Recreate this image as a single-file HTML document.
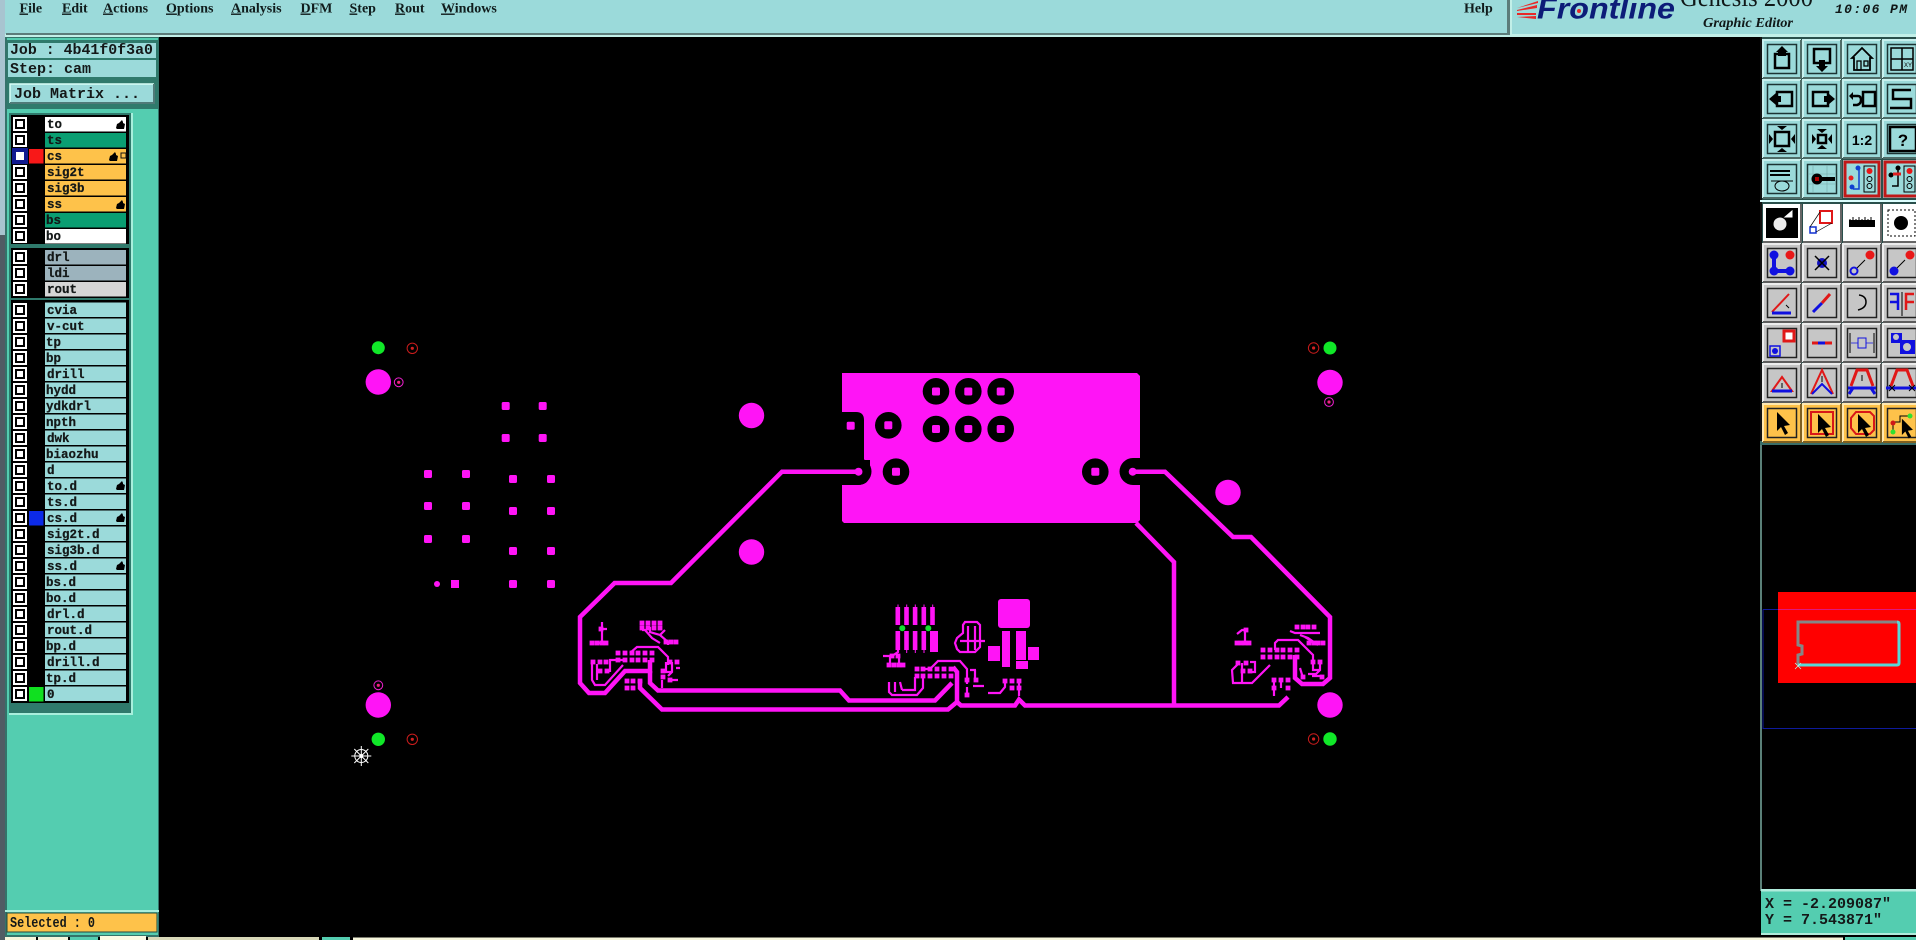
<!DOCTYPE html>
<html><head><meta charset="utf-8"><style>
html,body{margin:0;padding:0;background:#000;width:1916px;height:940px;overflow:hidden}
svg{display:block}
.m{font:bold 14px "Liberation Serif",serif;fill:#101c1c}
.l{font:bold 12.5px "Liberation Mono",monospace;fill:#141818;stroke:#141818;stroke-width:.25px}
.p{font:bold 15px "Liberation Mono",monospace;fill:#141818}
</style></head><body>
<svg xmlns="http://www.w3.org/2000/svg" width="1916" height="940" viewBox="0 0 1916 940">
<defs>
<g id="cb"><rect width="14" height="14" fill="#fff"/><rect x="2" y="2" width="10" height="10" fill="#000"/><rect x="4" y="4" width="6" height="6" fill="#fff"/></g>
<path id="hand" d="M0 8 L1 4 L3 3 L6 0 L7 2 L7 3 L9 4 L8 9 L1 9 Z" fill="#000"/>
<g id="bev"><path d="M0 38V0H38" fill="none" stroke="#c8f0ee" stroke-width="2"/><path d="M0 38H38V0" fill="none" stroke="#4f6c68" stroke-width="2"/><rect x="4.500" y="4.500" width="29" height="29" fill="none" stroke="#1c3434" stroke-width="1.500"/></g>
<g id="bt"><rect width="38" height="38" fill="#9bdada"/><use href="#bev"/></g>
<g id="bg"><rect width="38" height="38" fill="#c6c6c6"/><path d="M0 38V0H38" fill="none" stroke="#ececec" stroke-width="2"/><path d="M0 38H38V0" fill="none" stroke="#5c5c5c" stroke-width="2"/><rect x="4.500" y="4.500" width="29" height="29" fill="none" stroke="#222" stroke-width="1.500"/></g>
<g id="bw"><rect width="38" height="38" fill="#fff"/><path d="M0 38H38V0" fill="none" stroke="#666" stroke-width="2"/></g>
<g id="bo"><rect width="38" height="38" fill="#fec24a"/><path d="M0 38V0H38" fill="none" stroke="#ffe8b0" stroke-width="2"/><path d="M0 38H38V0" fill="none" stroke="#806020" stroke-width="2"/><rect x="4.500" y="4.500" width="29" height="29" fill="none" stroke="#222" stroke-width="1.500"/></g>
<path id="arr" d="M14 8 L14 27 L18 23 L22 31 L25 29 L21 22 L27 21 Z" fill="#000"/>
<g id="rng"><circle r="5.200" fill="none" stroke="#c81c1c" stroke-width="1"/><circle r="1.600" fill="#d02020"/></g>
<g id="mrng"><circle r="4.400" fill="none" stroke="#f020d0" stroke-width="1"/><circle r="1.600" fill="#f02080"/></g>
<rect id="sq" x="-4" y="-4" width="8" height="8" rx="1.600" fill="#ff14f6"/>
<rect id="sp" x="-2.400" y="-2.400" width="4.800" height="4.800" fill="#ff14f6"/>
</defs>

<!-- backgrounds -->
<rect width="1916" height="940" fill="#000"/>
<rect width="1916" height="34" fill="#9bdada"/>
<rect y="34" width="1916" height="3" fill="#c2efe8"/>
<rect x="6" y="33" width="1501" height="2" fill="#5c7c7a"/>
<rect x="1507" width="3" height="35" fill="#5c7c7a"/>
<rect x="1510" width="2" height="34" fill="#c2efe8"/>

<!-- left chrome -->
<rect x="0" y="0" width="5" height="940" fill="#505c64"/>
<rect x="0" y="0" width="5" height="235" fill="#a8c4d0"/>
<rect x="5" y="37" width="154" height="900" fill="#34736a"/>
<rect x="7" y="38" width="151" height="897" fill="#54cdb0"/>

<rect x="7" y="40" width="151" height="69" fill="#2f7a6c"/>
<rect x="8" y="43" width="148" height="15" fill="#9bdada"/>
<rect x="8" y="60" width="148" height="17" fill="#9bdada"/>
<rect x="9" y="82" width="147" height="23" fill="#2f7a6c"/>
<rect x="10" y="84" width="144" height="19" fill="#9bdada"/>
<path d="M10 103V84H154" fill="none" stroke="#d8fff8" stroke-width="1.500"/>
<path d="M10 103H154V84" fill="none" stroke="#4f7a78" stroke-width="2"/>
<text x="10" y="54" class="p" textLength="143" lengthAdjust="spacingAndGlyphs">Job : 4b41f0f3a0</text>
<text x="10" y="73" class="p">Step: cam</text>
<text x="14" y="98" class="p">Job Matrix ...</text>

<rect x="9" y="113" width="123" height="600" fill="#2f7a6c"/>
<rect x="131" y="113" width="2" height="601" fill="#a8efdc"/>
<rect x="9" y="713" width="124" height="2" fill="#a8efdc"/>
<rect x="11" y="115" width="118" height="129" fill="#000"/>
<rect x="11" y="248" width="118" height="50" fill="#000"/>
<rect x="11" y="300" width="118" height="403" fill="#000"/>

<!-- layer rows -->
<g>
<rect x="45" y="117" width="81" height="14.500" fill="#fff"/><use href="#cb" x="13" y="117"/><text x="47" y="128" class="l">to</text><use href="#hand" x="116" y="120"/>
<rect x="45" y="133" width="81" height="14.500" fill="#0a9e72"/><use href="#cb" x="13" y="133"/><text x="47" y="144" class="l">ts</text>
<rect x="45" y="149" width="81" height="14.500" fill="#fec24a"/><rect x="12" y="148" width="16" height="16" fill="#101a90"/><rect x="16" y="152" width="8" height="8" fill="#fff"/><rect x="29" y="149" width="14.500" height="14.500" fill="#f81818"/><text x="47" y="160" class="l">cs</text><use href="#hand" x="109" y="152"/><rect x="121" y="153" width="5" height="5" fill="none" stroke="#111"/>
<rect x="45" y="165" width="81" height="14.500" fill="#fec24a"/><use href="#cb" x="13" y="165"/><text x="47" y="176" class="l">sig2t</text>
<rect x="45" y="181" width="81" height="14.500" fill="#fec24a"/><use href="#cb" x="13" y="181"/><text x="47" y="192" class="l">sig3b</text>
<rect x="45" y="197" width="81" height="14.500" fill="#fec24a"/><use href="#cb" x="13" y="197"/><text x="47" y="208" class="l">ss</text><use href="#hand" x="116" y="200"/>
<rect x="45" y="213" width="81" height="14.500" fill="#0a9e72"/><use href="#cb" x="13" y="213"/><text x="46" y="224" class="l">bs</text>
<rect x="45" y="229" width="81" height="14.500" fill="#fff"/><use href="#cb" x="13" y="229"/><text x="46" y="240" class="l">bo</text>

<rect x="45" y="250" width="81" height="14.500" fill="#9cb3bd"/><use href="#cb" x="13" y="250"/><text x="47" y="261" class="l">drl</text>
<rect x="45" y="266" width="81" height="14.500" fill="#9cb3bd"/><use href="#cb" x="13" y="266"/><text x="47" y="277" class="l">ldi</text>
<rect x="45" y="282" width="81" height="14.500" fill="#d6d6d6"/><use href="#cb" x="13" y="282"/><text x="47" y="293" class="l">rout</text>

<g fill="#9bdada">
<rect x="45" y="302.500" width="81" height="14.500"/><rect x="45" y="318.500" width="81" height="14.500"/><rect x="45" y="334.500" width="81" height="14.500"/><rect x="45" y="350.500" width="81" height="14.500"/><rect x="45" y="366.500" width="81" height="14.500"/>
<rect x="45" y="382.500" width="81" height="14.500"/><rect x="45" y="398.500" width="81" height="14.500"/><rect x="45" y="414.500" width="81" height="14.500"/><rect x="45" y="430.500" width="81" height="14.500"/><rect x="45" y="446.500" width="81" height="14.500"/>
<rect x="45" y="462.500" width="81" height="14.500"/><rect x="45" y="478.500" width="81" height="14.500"/><rect x="45" y="494.500" width="81" height="14.500"/><rect x="45" y="510.500" width="81" height="14.500"/><rect x="45" y="526.500" width="81" height="14.500"/>
<rect x="45" y="542.500" width="81" height="14.500"/><rect x="45" y="558.500" width="81" height="14.500"/><rect x="45" y="574.500" width="81" height="14.500"/><rect x="45" y="590.500" width="81" height="14.500"/><rect x="45" y="606.500" width="81" height="14.500"/>
<rect x="45" y="622.500" width="81" height="14.500"/><rect x="45" y="638.500" width="81" height="14.500"/><rect x="45" y="654.500" width="81" height="14.500"/><rect x="45" y="670.500" width="81" height="14.500"/><rect x="45" y="686.500" width="81" height="14.500"/>
</g>
<use href="#cb" x="13" y="303"/><use href="#cb" x="13" y="319"/><use href="#cb" x="13" y="335"/><use href="#cb" x="13" y="351"/><use href="#cb" x="13" y="367"/>
<use href="#cb" x="13" y="383"/><use href="#cb" x="13" y="399"/><use href="#cb" x="13" y="415"/><use href="#cb" x="13" y="431"/><use href="#cb" x="13" y="447"/>
<use href="#cb" x="13" y="463"/><use href="#cb" x="13" y="479"/><use href="#cb" x="13" y="495"/><use href="#cb" x="13" y="511"/><use href="#cb" x="13" y="527"/>
<use href="#cb" x="13" y="543"/><use href="#cb" x="13" y="559"/><use href="#cb" x="13" y="575"/><use href="#cb" x="13" y="591"/><use href="#cb" x="13" y="607"/>
<use href="#cb" x="13" y="623"/><use href="#cb" x="13" y="639"/><use href="#cb" x="13" y="655"/><use href="#cb" x="13" y="671"/><use href="#cb" x="13" y="687"/>
<rect x="29" y="511" width="14.500" height="14.500" fill="#0c2ae8"/>
<rect x="29" y="687" width="14.500" height="14.500" fill="#10e020"/>
<text x="47" y="314" class="l">cvia</text>
<text x="47" y="330" class="l">v-cut</text>
<text x="46" y="346" class="l">tp</text>
<text x="46" y="362" class="l">bp</text>
<text x="47" y="378" class="l">drill</text>
<text x="46" y="394" class="l">hydd</text>
<text x="46" y="410" class="l">ydkdrl</text>
<text x="46" y="426" class="l">npth</text>
<text x="47" y="442" class="l">dwk</text>
<text x="46" y="458" class="l">biaozhu</text>
<text x="47" y="474" class="l">d</text>
<text x="47" y="490" class="l">to.d</text><use href="#hand" x="116" y="481"/>
<text x="47" y="506" class="l">ts.d</text>
<text x="47" y="522" class="l">cs.d</text><use href="#hand" x="116" y="513"/>
<text x="47" y="538" class="l">sig2t.d</text>
<text x="47" y="554" class="l">sig3b.d</text>
<text x="47" y="570" class="l">ss.d</text><use href="#hand" x="116" y="561"/>
<text x="46" y="586" class="l">bs.d</text>
<text x="46" y="602" class="l">bo.d</text>
<text x="47" y="618" class="l">drl.d</text>
<text x="47" y="634" class="l">rout.d</text>
<text x="46" y="650" class="l">bp.d</text>
<text x="47" y="666" class="l">drill.d</text>
<text x="46" y="682" class="l">tp.d</text>
<text x="47" y="698" class="l">0</text>
</g>

<rect x="5" y="910" width="154" height="2" fill="#a8efdc"/>
<rect x="7" y="913" width="150" height="19" fill="#fec24a" stroke="#23483f" stroke-width="1"/>
<text x="10" y="927" class="p" style="font-size:15px" textLength="85" lengthAdjust="spacingAndGlyphs">Selected : 0</text>

<!-- bottom strip -->
<g>
<rect x="5" y="937" width="31" height="3" fill="#f6f6dc"/><rect x="38" y="937" width="30" height="3" fill="#f6f6dc"/><rect x="70" y="937" width="28" height="3" fill="#54cdb0"/><rect x="100" y="936" width="46" height="4" fill="#fbfbe4"/><rect x="148" y="937" width="171" height="3" fill="#d8d8b8"/><rect x="322" y="937" width="28" height="3" fill="#54cdb0"/><rect x="353" y="937.500" width="1490" height="2.500" fill="#f6f6dc"/><rect x="1845" y="937" width="71" height="3" fill="#54cdb0"/>
</g>

<!-- menu -->
<g class="m">
<text x="19.500" y="12.500" class="m"><tspan text-decoration="underline">F</tspan>ile</text>
<text x="62" y="12.500" class="m"><tspan text-decoration="underline">E</tspan>dit</text>
<text x="103" y="12.500" class="m"><tspan text-decoration="underline">A</tspan>ctions</text>
<text x="166" y="12.500" class="m"><tspan text-decoration="underline">O</tspan>ptions</text>
<text x="231" y="12.500" class="m"><tspan text-decoration="underline">A</tspan>nalysis</text>
<text x="300.500" y="12.500" class="m"><tspan text-decoration="underline">D</tspan>FM</text>
<text x="349.500" y="12.500" class="m"><tspan text-decoration="underline">S</tspan>tep</text>
<text x="395" y="12.500" class="m"><tspan text-decoration="underline">R</tspan>out</text>
<text x="441" y="12.500" class="m"><tspan text-decoration="underline">W</tspan>indows</text>
<text x="1464" y="12.500" class="m">Help</text>
</g>

<!-- logo -->
<g fill="#e82828"><path d="M1517 8 L1538 1 L1538 3 Z"/><path d="M1517 10 L1537 5 L1537 8 L1517 11 Z"/><path d="M1517 13 H1536 V15 H1517 Z"/><path d="M1517 17 L1536 16 V19 Z"/></g>
<text x="1537" y="18.500" font-family="Liberation Sans,sans-serif" font-weight="bold" font-style="italic" font-size="30" fill="#0c1c78" textLength="138" lengthAdjust="spacingAndGlyphs">Frontline</text>
<circle cx="1579" cy="11" r="2" fill="#e82828"/>
<text x="1680" y="6" font-family="Liberation Serif,serif" font-size="26" fill="#101818" textLength="133" lengthAdjust="spacingAndGlyphs">Genesis 2000</text>
<text x="1703" y="27" font-family="Liberation Serif,serif" font-weight="bold" font-style="italic" font-size="13.500" fill="#101818" textLength="90" lengthAdjust="spacingAndGlyphs">Graphic Editor</text>
<text x="1835" y="13" font-family="Liberation Mono,monospace" font-weight="bold" font-style="italic" font-size="13" fill="#101818" textLength="72">10:06 PM</text>

<!-- right toolbar -->
<rect x="1760" y="37" width="156" height="408" fill="#2a504c"/>
<rect x="1760" y="37" width="2" height="408" fill="#111"/>
<rect x="1760" y="200" width="156" height="2" fill="#dff"/>
<rect x="1760" y="441" width="156" height="4" fill="#3a6e68"/>

<g transform="translate(1763,40)"><use href="#bt"/><path d="M12 14h14v14h-14z" fill="none" stroke="#000" stroke-width="2.500"/><path d="M15 14v-2h-2l6-6 6 6h-2v4h-8z" fill="#000"/></g>
<g transform="translate(1803,40)"><use href="#bt"/><path d="M11 9h16v14h-16z" fill="none" stroke="#000" stroke-width="2.500"/><path d="M16 20h6v6h3l-6 6-6-6h3z" fill="#000"/></g>
<g transform="translate(1843,40)"><use href="#bt"/><path d="M9 18 19 8l10 10h-2v12H11V18z" fill="none" stroke="#000" stroke-width="1.800"/><rect x="14" y="21" width="4" height="9" fill="none" stroke="#000" stroke-width="1.300"/><rect x="21" y="21" width="4" height="5" fill="none" stroke="#000" stroke-width="1.300"/></g>
<g transform="translate(1883,40)"><use href="#bt"/><path d="M8 8h22v22H8zM19 8v22M8 19h22" fill="none" stroke="#000" stroke-width="1.500"/><text x="21" y="27" font-size="6" font-family="Liberation Sans" fill="#000">XY</text></g>

<g transform="translate(1763,80)"><use href="#bt"/><rect x="14" y="12" width="15" height="14" fill="none" stroke="#000" stroke-width="2.500"/><path d="M6 19l7-6v12z" fill="#000"/><rect x="12" y="16" width="6" height="6" fill="#000"/></g>
<g transform="translate(1803,80)"><use href="#bt"/><rect x="10" y="12" width="15" height="14" fill="none" stroke="#000" stroke-width="2.500"/><path d="M32 19l-7-6v12z" fill="#000"/><rect x="21" y="16" width="6" height="6" fill="#000"/></g>
<g transform="translate(1843,80)"><use href="#bt"/><rect x="20" y="12" width="12" height="14" fill="none" stroke="#000" stroke-width="2.500"/><path d="M9 16h6q3 0 3 4t-4 5h-4" fill="none" stroke="#000" stroke-width="2.500"/><path d="M6 16l4-4v8z" fill="#000"/></g>
<g transform="translate(1883,80)"><use href="#bt"/><path d="M28 10H10v9h18v9H7" fill="none" stroke="#000" stroke-width="2.500"/></g>

<g transform="translate(1763,120)"><use href="#bt"/><rect x="12" y="12" width="14" height="14" fill="none" stroke="#000" stroke-width="2.500"/><path d="M19 10l-5-4h10zM19 28l-5 4h10zM10 19l-4-5v10zM28 19l4-5v10z" fill="#000"/></g>
<g transform="translate(1803,120)"><use href="#bt"/><rect x="15" y="15" width="8" height="8" fill="none" stroke="#000" stroke-width="2.500"/><path d="M19 13l-5-4h10zM19 25l-5 4h10zM13 19l-4-5v10zM25 19l4-5v10z" fill="#000"/></g>
<g transform="translate(1843,120)"><use href="#bt"/><text x="19" y="25" font-family="Liberation Sans" font-weight="bold" font-size="14" text-anchor="middle" fill="#000">1:2</text></g>
<g transform="translate(1883,120)"><use href="#bt"/><rect x="7" y="7" width="26" height="24" fill="none" stroke="#000" stroke-width="2.500"/><text x="20" y="26" font-family="Liberation Sans" font-weight="bold" font-size="17" text-anchor="middle" fill="#000">?</text></g>

<g transform="translate(1763,160)"><use href="#bt"/><path d="M7 11h20M7 15h20" stroke="#000" stroke-width="2"/><path d="M8 21h22" stroke="#000"/><ellipse cx="19" cy="26" rx="7" ry="5" fill="none" stroke="#000"/></g>
<g transform="translate(1803,160)"><use href="#bt"/><path d="M10 5v28M24 5v28M5 14h28M5 24h28" stroke="#7aa" stroke-width=".6"/><circle cx="14" cy="19" r="5.500" fill="#000"/><rect x="12" y="17" width="4" height="4" fill="#a00"/><rect x="18" y="17" width="14" height="4" fill="#000"/></g>
<g transform="translate(1843,160)"><rect width="38" height="38" fill="#9bdada"/><rect x="2" y="2" width="34" height="34" fill="none" stroke="#c01818" stroke-width="3"/><path d="M16 7v22H10" fill="none" stroke="#1040d0" stroke-width="1.500"/><circle cx="15" cy="8" r="2.500" fill="#1040d0"/><circle cx="8" cy="18" r="2.500" fill="#e82020"/><circle cx="9" cy="27" r="2.500" fill="#1040d0"/><rect x="21" y="6" width="11" height="26" fill="none" stroke="#000"/><circle cx="26.500" cy="11" r="3" fill="#e81818"/><circle cx="26.500" cy="19" r="2.500" fill="none" stroke="#000"/><circle cx="26.500" cy="26" r="2.500" fill="none" stroke="#000"/></g>
<g transform="translate(1883,160)"><rect width="38" height="38" fill="#9bdada"/><rect x="2" y="2" width="34" height="34" fill="none" stroke="#c01818" stroke-width="3"/><path d="M15 8v18H9" fill="none" stroke="#000" stroke-width="1.500"/><circle cx="15" cy="8" r="2.500" fill="#000"/><circle cx="8" cy="15" r="2.500" fill="#000"/><path d="M10 14h8" stroke="#e02020" stroke-width="3"/><rect x="21" y="6" width="11" height="26" fill="none" stroke="#000"/><circle cx="26.500" cy="11" r="3" fill="#e81818"/><circle cx="26.500" cy="19" r="2.500" fill="none" stroke="#000"/><circle cx="26.500" cy="26" r="2.500" fill="none" stroke="#000"/></g>

<g transform="translate(1763,204)"><use href="#bw"/><rect x="3" y="4" width="32" height="30" fill="#000"/><circle cx="17" cy="20" r="6.500" fill="#eee"/><path d="M22 13l7-6v6zM22 13l5-4" stroke="#fff" fill="#fff"/></g>
<g transform="translate(1803,204)"><use href="#bw"/><rect x="17" y="7" width="12" height="12" fill="none" stroke="#e01818" stroke-width="2"/><rect x="7" y="23" width="6" height="6" fill="none" stroke="#1030d0" stroke-width="1.500"/><path d="M17 8 7 23M29 19 13 28" stroke="#000" stroke-width=".7"/></g>
<g transform="translate(1843,204)"><use href="#bw"/><rect x="6" y="16" width="26" height="7" fill="#000"/><path d="M7 15v2M10 13v3M13 15v2M16 13v3M19 15v2M22 13v3M25 15v2M28 13v3" stroke="#000"/></g>
<g transform="translate(1883,204)"><use href="#bw"/><rect x="5" y="6" width="27" height="26" fill="none" stroke="#000" stroke-dasharray="2 2"/><circle cx="18" cy="19" r="7" fill="#000"/></g>

<g transform="translate(1763,244)"><use href="#bg"/><path d="M11 11v16h16" fill="none" stroke="#1010e0" stroke-width="4"/><circle cx="11" cy="11" r="4.500" fill="#1010e0"/><circle cx="11" cy="27" r="4.500" fill="#1010e0"/><circle cx="27" cy="27" r="4.500" fill="#1010e0"/><circle cx="27" cy="11" r="4.500" fill="#e81818"/></g>
<g transform="translate(1803,244)"><use href="#bg"/><circle cx="19" cy="19" r="5" fill="#1010c0"/><path d="M12 12 26 26M26 12 12 26" stroke="#000" stroke-width="1.500"/></g>
<g transform="translate(1843,244)"><use href="#bg"/><circle cx="11" cy="27" r="3.500" fill="none" stroke="#1010e0" stroke-width="2"/><circle cx="27" cy="11" r="4.500" fill="#e81818"/><path d="M14 24 22 16" stroke="#000"/></g>
<g transform="translate(1883,244)"><use href="#bg"/><circle cx="11" cy="27" r="4.500" fill="#1010e0"/><circle cx="27" cy="11" r="4.500" fill="#e81818"/><path d="M14 24 22 16" stroke="#000"/></g>

<g transform="translate(1763,284)"><use href="#bg"/><path d="M9 28 26 10" stroke="#e01818" stroke-width="2"/><path d="M9 29H28" stroke="#1010e0" stroke-width="3"/><path d="M23 21l3 3" stroke="#000"/></g>
<g transform="translate(1803,284)"><use href="#bg"/><path d="M10 28 19 19" stroke="#1010e0" stroke-width="3"/><path d="M19 19 27 10" stroke="#e01818" stroke-width="3"/></g>
<g transform="translate(1843,284)"><use href="#bg"/><path d="M16 11q7 1 7 7t-8 8" fill="none" stroke="#000" stroke-width="1.500"/></g>
<g transform="translate(1883,284)"><use href="#bg"/><path d="M7 10h8v16M7 18h8" fill="none" stroke="#1010e0" stroke-width="2.500"/><path d="M19 8v24" stroke="#000"/><path d="M31 10h-8v16M31 18h-8" fill="none" stroke="#e01818" stroke-width="2.500"/></g>

<g transform="translate(1763,324)"><use href="#bg"/><rect x="21" y="7" width="10" height="10" fill="#fff" stroke="#e01818" stroke-width="3"/><rect x="7" y="22" width="10" height="10" fill="none" stroke="#1010e0" stroke-width="1.500"/><circle cx="12" cy="27" r="3" fill="#1010e0"/></g>
<g transform="translate(1803,324)"><use href="#bg"/><path d="M9 19H29" stroke="#e01818" stroke-width="3"/><path d="M15 19H22" stroke="#1010e0" stroke-width="3"/></g>
<g transform="translate(1843,324)"><use href="#bg"/><path d="M7 9v20M31 9v20" stroke="#000"/><path d="M8 19h22" stroke="#1010e0" stroke-width=".8"/><rect x="15" y="14" width="8" height="10" fill="#c6c6c6" stroke="#1010e0"/></g>
<g transform="translate(1883,324)"><use href="#bg"/><rect x="8" y="9" width="11" height="10" fill="#1010e0"/><rect x="17" y="16" width="15" height="14" fill="#1010e0"/><circle cx="13" cy="13" r="3" fill="#c6c6c6"/><circle cx="24" cy="23" r="4" fill="#c6c6c6"/></g>

<g transform="translate(1763,364)"><use href="#bg"/><path d="M9 27 19 13 29 27Z" fill="none" stroke="#e01818" stroke-width="2"/><path d="M9 27H29" stroke="#1010e0" stroke-width="3"/><path d="M19 19v5" stroke="#000"/></g>
<g transform="translate(1803,364)"><use href="#bg"/><path d="M8 30 19 6 30 30" fill="none" stroke="#e01818" stroke-width="2"/><path d="M9 30 19 20 29 30" fill="none" stroke="#1010e0" stroke-width="2"/><path d="M19 12v6" stroke="#000"/></g>
<g transform="translate(1843,364)"><use href="#bg"/><path d="M8 22 14 6H24L30 22" fill="none" stroke="#e01818" stroke-width="3"/><path d="M5 24H33M6 30 10 24M32 30 28 24" stroke="#1010e0" stroke-width="3"/><path d="M19 11v6" stroke="#000"/></g>
<g transform="translate(1883,364)"><use href="#bg"/><path d="M8 22 14 6H24L30 22" fill="none" stroke="#e01818" stroke-width="3"/><path d="M3 24H35" stroke="#1010e0" stroke-width="3"/><path d="M6 21 12 27M12 21 6 27M26 21 32 27M32 21 26 27" stroke="#000"/></g>

<g transform="translate(1763,404)"><use href="#bo"/><use href="#arr"/></g>
<g transform="translate(1803,404)"><use href="#bo"/><rect x="8" y="8" width="22" height="22" fill="none" stroke="#d81818" stroke-width="2"/><use href="#arr" transform="translate(1,2)"/></g>
<g transform="translate(1843,404)"><use href="#bo"/><path d="M13 8H27L31 12V26L27 30H13L8 24V14Z" fill="none" stroke="#d81818" stroke-width="2"/><use href="#arr" transform="translate(1,2)"/></g>
<g transform="translate(1883,404)"><use href="#bo"/><path d="M10 27V18H17V12H27" fill="none" stroke="#000"/><circle cx="10" cy="19" r="2.500" fill="#d01818"/><circle cx="10" cy="28" r="2.500" fill="#30e030"/><circle cx="27" cy="12" r="2.500" fill="#30e030"/><use href="#arr" transform="translate(7,8) scale(.85)"/></g>

<!-- minimap -->
<rect x="1760" y="445" width="2" height="446" fill="#5a8078"/>
<rect x="1778" y="592" width="138" height="91" fill="#ff0000"/>
<path d="M1763 609.500H1916" stroke="#e01880" stroke-width="1"/>
<path d="M1763 609.500V728.500H1916M1763 609.500H1778" fill="none" stroke="#0e1a9c" stroke-width="1"/>
<path d="M1798 665V655L1802 654V646L1798 645V622H1897" fill="none" stroke="#868686" stroke-width="3"/>
<path d="M1897 622Q1899 622 1899 624V663Q1899 665 1897 665H1798" fill="none" stroke="#58d8d8" stroke-width="3"/>
<path d="M1795 663 1801 669M1801 663 1795 669" stroke="#bfe" stroke-width=".7"/>

<!-- status -->
<rect x="1761" y="890" width="155" height="44" fill="#54cdb0"/>
<rect x="1761" y="889" width="155" height="2.500" fill="#b0ecdc"/>
<rect x="1761" y="933" width="155" height="2" fill="#b0ecdc"/>
<text x="1765" y="908" class="p">X = -2.209087"</text>
<text x="1765" y="924" class="p">Y = 7.543871"</text>

<!-- PCB -->
<g>
<!-- plane -->
<path d="M842 373H1137L1140 376V520L1137 523H844L842 521Z" fill="#ff14f6"/>
<path d="M842 412H856Q864 412 864 420V460H870V472Q870 485 858 485H842Z" fill="#000"/>
<path d="M842 458H858A13.500 13.500 0 0 1 858 485H842Z" fill="#000"/>
<path d="M1140 458H1133A13.500 13.500 0 0 0 1133 485H1140Z" fill="#000"/>
<g fill="#000">
<circle cx="936" cy="391.300" r="13.300"/><circle cx="968.300" cy="391.300" r="13.300"/><circle cx="1000.700" cy="391.300" r="13.300"/>
<circle cx="936" cy="429" r="13.300"/><circle cx="968.300" cy="429" r="13.300"/><circle cx="1000.700" cy="429" r="13.300"/>
<circle cx="888.300" cy="425.300" r="13.300"/><circle cx="896" cy="471.700" r="13.300"/><circle cx="1095.300" cy="471.700" r="13.300"/>
</g>
<g fill="#ff14f6">
<rect x="932" y="387.500" width="8" height="8" rx="1.500"/><rect x="964.300" y="387.500" width="8" height="8" rx="1.500"/><rect x="996.700" y="387.500" width="8" height="8" rx="1.500"/>
<rect x="932" y="425" width="8" height="8" rx="1.500"/><rect x="964.300" y="425" width="8" height="8" rx="1.500"/><rect x="996.700" y="425" width="8" height="8" rx="1.500"/>
<rect x="884.300" y="421.300" width="8" height="8" rx="1.500"/><rect x="892" y="467.700" width="8" height="8" rx="1.500"/><rect x="1091.300" y="467.700" width="8" height="8" rx="1.500"/>
<rect x="846.700" y="421.700" width="8" height="8" rx="1.500"/>
<circle cx="858.500" cy="471.700" r="4"/><circle cx="1132.700" cy="471.700" r="4"/>
</g>
<!-- main traces -->
<g fill="none" stroke="#ff14f6" stroke-width="4.500" stroke-linejoin="miter">
<path d="M858.500 471.700H782L671 583H614.600L580 617V683L589 693H605L625 671H650V660"/>
<path d="M650 671V683L658 690.500H840L849 700.500H935L952 683"/>
<path d="M640 680V688L662 709.500H948L957 702V672L953 667"/>
<path d="M957 702L961 705.500H1015L1019 699.500L1025 705.500H1279L1288 697"/>
<path d="M1174 705V562L1136 523"/>
<path d="M1132.700 471.700H1165L1233 537H1251L1330 617V678L1323 684H1302L1295 678V655"/>
</g>
<g fill="none" stroke="#ff14f6" stroke-width="2.200">
<path d="M630 653L637 647H658L668 657V665"/>
<path d="M623 665L605 685H595L592 680V662M597 664V680"/>
<path d="M623 660H610V672"/>
<path d="M1275 650V643L1278 640H1298L1313 655V662"/>
<path d="M1270 665L1252 683H1233L1232 670L1237 665V662"/>
<path d="M1242 663V683M1250 662H1255V672H1248"/>
<path d="M923 669H930L938 661H960L967 669V677"/>
<path d="M923 676V688L917 695H892L889 692V682M902 690H915V677"/>
<path d="M895 682V692M900 682L902 690"/>
<path d="M970 622H965L963 625V633L957 638L955 643L957 649L960 652H975L980 647V625L977 622H970Z"/>
<path d="M968 626V653M975 626V650M960 641H985"/>
<path d="M988 693H1000L1005 687V680M1019 680V696"/>
<path d="M898 649V652L892 656H883M890 656V664M899 655V665"/>
<path d="M967 677V684M967 687V695M975 670V682M973 686H984M970 670H976"/>
<path d="M602 622V645M600 629H607M597 643H607"/>
<path d="M642 630H645L652 638L660 643M650 627V632L660 635L668 642V645M665 630L660 635"/>
<path d="M666 662V672H672M672 662V672L668 676M662 680V688M668 680H678M676 668L680 668"/>
<path d="M1237 634L1242 630H1246M1245 630V643M1237 643H1249"/>
<path d="M1290 631L1295 633H1320M1305 637L1310 640L1314 644M1300 635L1308 638L1318 645"/>
<path d="M1313 662V670H1320M1300 668L1303 678M1320 662V670L1316 674H1308M1312 676H1322"/>
<path d="M1274 680V696M1281 680V688"/>
</g>
<!-- small pads left cluster -->
<g>
<use href="#sp" x="618" y="653"/><use href="#sp" x="625" y="653"/><use href="#sp" x="632" y="653"/><use href="#sp" x="638" y="653"/><use href="#sp" x="645" y="653"/><use href="#sp" x="652" y="653"/>
<use href="#sp" x="618" y="660"/><use href="#sp" x="625" y="660"/><use href="#sp" x="632" y="660"/><use href="#sp" x="638" y="660"/><use href="#sp" x="645" y="660"/><use href="#sp" x="652" y="660"/>
<use href="#sp" x="627" y="681"/><use href="#sp" x="633" y="681"/><use href="#sp" x="640" y="681"/><use href="#sp" x="627" y="688"/><use href="#sp" x="633" y="688"/>
<use href="#sp" x="642" y="623"/><use href="#sp" x="648" y="623"/><use href="#sp" x="654" y="623"/><use href="#sp" x="660" y="623"/>
<use href="#sp" x="642" y="628"/><use href="#sp" x="648" y="628"/><use href="#sp" x="654" y="628"/><use href="#sp" x="660" y="628"/>
<use href="#sp" x="666" y="642"/><use href="#sp" x="671" y="642"/><use href="#sp" x="676" y="642"/><use href="#sp" x="601" y="629"/><use href="#sp" x="592" y="643"/><use href="#sp" x="597" y="643"/><use href="#sp" x="602" y="643"/><use href="#sp" x="606" y="643"/>
<use href="#sp" x="593" y="662"/><use href="#sp" x="600" y="662"/><use href="#sp" x="606" y="662"/><use href="#sp" x="600" y="671"/><use href="#sp" x="607" y="671"/>
<use href="#sp" x="663" y="671"/><use href="#sp" x="663" y="677"/><use href="#sp" x="670" y="680"/><use href="#sp" x="677" y="662"/><use href="#sp" x="670" y="662"/>
</g>
<!-- small pads centre cluster -->
<g>
<use href="#sp" x="917" y="669"/><use href="#sp" x="923" y="669"/><use href="#sp" x="930" y="669"/><use href="#sp" x="937" y="669"/><use href="#sp" x="944" y="669"/><use href="#sp" x="951" y="669"/>
<use href="#sp" x="917" y="676"/><use href="#sp" x="923" y="676"/><use href="#sp" x="930" y="676"/><use href="#sp" x="937" y="676"/><use href="#sp" x="944" y="676"/><use href="#sp" x="951" y="676"/>
<use href="#sp" x="1012" y="681"/><use href="#sp" x="1012" y="688"/><use href="#sp" x="1019" y="681"/><use href="#sp" x="1019" y="688"/><use href="#sp" x="1005" y="681"/>
<use href="#sp" x="889" y="665"/><use href="#sp" x="894" y="665"/><use href="#sp" x="899" y="665"/><use href="#sp" x="903" y="665"/><use href="#sp" x="892" y="656"/><use href="#sp" x="898" y="656"/>
<use href="#sp" x="967" y="680"/><use href="#sp" x="976" y="680"/><use href="#sp" x="967" y="695"/>
</g>
<!-- small pads right cluster -->
<g>
<use href="#sp" x="1263" y="650"/><use href="#sp" x="1270" y="650"/><use href="#sp" x="1277" y="650"/><use href="#sp" x="1283" y="650"/><use href="#sp" x="1290" y="650"/><use href="#sp" x="1297" y="650"/>
<use href="#sp" x="1263" y="657"/><use href="#sp" x="1270" y="657"/><use href="#sp" x="1277" y="657"/><use href="#sp" x="1283" y="657"/><use href="#sp" x="1290" y="657"/><use href="#sp" x="1297" y="657"/>
<use href="#sp" x="1274" y="680"/><use href="#sp" x="1281" y="680"/><use href="#sp" x="1288" y="680"/><use href="#sp" x="1274" y="688"/><use href="#sp" x="1288" y="688"/>
<use href="#sp" x="1297" y="627"/><use href="#sp" x="1303" y="627"/><use href="#sp" x="1308" y="627"/><use href="#sp" x="1314" y="627"/>
<use href="#sp" x="1309" y="643"/><use href="#sp" x="1314" y="643"/><use href="#sp" x="1318" y="643"/><use href="#sp" x="1323" y="643"/><use href="#sp" x="1246" y="630"/><use href="#sp" x="1237" y="643"/><use href="#sp" x="1241" y="643"/><use href="#sp" x="1245" y="643"/><use href="#sp" x="1249" y="643"/>
<use href="#sp" x="1238" y="663"/><use href="#sp" x="1246" y="663"/><use href="#sp" x="1250" y="671"/><use href="#sp" x="1243" y="671"/><use href="#sp" x="1313" y="662"/><use href="#sp" x="1320" y="662"/><use href="#sp" x="1303" y="677"/><use href="#sp" x="1322" y="677"/>
</g>
<!-- connector -->
<g fill="#ff14f6">
<rect x="895.500" y="607" width="4.600" height="18"/><rect x="904.200" y="607" width="4.600" height="18"/><rect x="912.800" y="607" width="4.600" height="18"/><rect x="921.500" y="607" width="4.600" height="18"/><rect x="930.200" y="607" width="4.600" height="18"/>
<rect x="897.500" y="604.500" width="1" height="3"/><rect x="906.200" y="604.500" width="1" height="3"/><rect x="914.800" y="604.500" width="1" height="3"/><rect x="923.500" y="604.500" width="1" height="3"/><rect x="932.200" y="604.500" width="1" height="3"/>
<rect x="895.500" y="631" width="4.600" height="19"/><rect x="904.200" y="631" width="4.600" height="19"/><rect x="912.800" y="631" width="4.600" height="19"/><rect x="921.500" y="631" width="4.600" height="19"/><rect x="930" y="631" width="8" height="21"/>
<rect x="906.200" y="650" width="1" height="3"/><rect x="914.800" y="650" width="1" height="3"/><rect x="923.500" y="650" width="1" height="3"/>
<rect x="998" y="599" width="32" height="29" rx="3"/>
<rect x="1002" y="631" width="8" height="36"/>
<rect x="1016" y="631" width="10" height="29"/>
<rect x="1016" y="661" width="12" height="8"/>
<rect x="988" y="646" width="12" height="15"/>
<rect x="1028" y="647" width="11" height="13"/>
</g>
<circle cx="902.300" cy="628.300" r="3" fill="#12e030"/><circle cx="928.300" cy="628.300" r="3" fill="#12e030"/>

<!-- big circles & registration -->
<g fill="#ff14f6">
<circle cx="378.300" cy="382" r="12.700"/><circle cx="378.300" cy="705" r="12.700"/><circle cx="1330" cy="382.500" r="12.700"/><circle cx="1330" cy="705" r="12.700"/>
<circle cx="751.500" cy="415.500" r="12.700"/><circle cx="751.500" cy="552" r="12.700"/><circle cx="1228" cy="492.500" r="12.700"/>
</g>
<g fill="#10e828"><circle cx="378.300" cy="347.700" r="6.500"/><circle cx="378.300" cy="739.300" r="6.700"/><circle cx="1330" cy="348" r="6.500"/><circle cx="1330" cy="739" r="6.700"/></g>
<use href="#rng" x="412.300" y="348.300"/><use href="#rng" x="412.300" y="739.300"/><use href="#rng" x="1313.600" y="348"/><use href="#rng" x="1313.600" y="739"/>
<use href="#mrng" x="398.700" y="382.300"/><use href="#mrng" x="378.300" y="685.300"/><use href="#mrng" x="1329" y="402"/>

<!-- via array -->
<use href="#sq" x="505.700" y="406"/><use href="#sq" x="542.700" y="406"/><use href="#sq" x="505.700" y="438"/><use href="#sq" x="542.700" y="438"/>
<use href="#sq" x="428" y="474"/><use href="#sq" x="466" y="474"/><use href="#sq" x="428" y="506"/><use href="#sq" x="466" y="506"/><use href="#sq" x="428" y="539"/><use href="#sq" x="466" y="539"/>
<use href="#sq" x="513" y="479"/><use href="#sq" x="551" y="479"/><use href="#sq" x="513" y="511"/><use href="#sq" x="551" y="511"/><use href="#sq" x="513" y="551"/><use href="#sq" x="551" y="551"/><use href="#sq" x="513" y="584"/><use href="#sq" x="551" y="584"/>
<circle cx="437" cy="584" r="3" fill="#ff14f6"/><rect x="451" y="580" width="8" height="8" fill="#ff14f6"/>

<!-- origin marker -->
<g stroke="#fff" stroke-width="1" fill="none" transform="translate(361.300,756)">
<path d="M-10 0H10M0 -10V10M-7 -7 7 7M-7 7 7 -7"/><circle r="6.500"/><circle r="1.500" fill="#fff"/>
</g>
</g>
</svg>
</body></html>
